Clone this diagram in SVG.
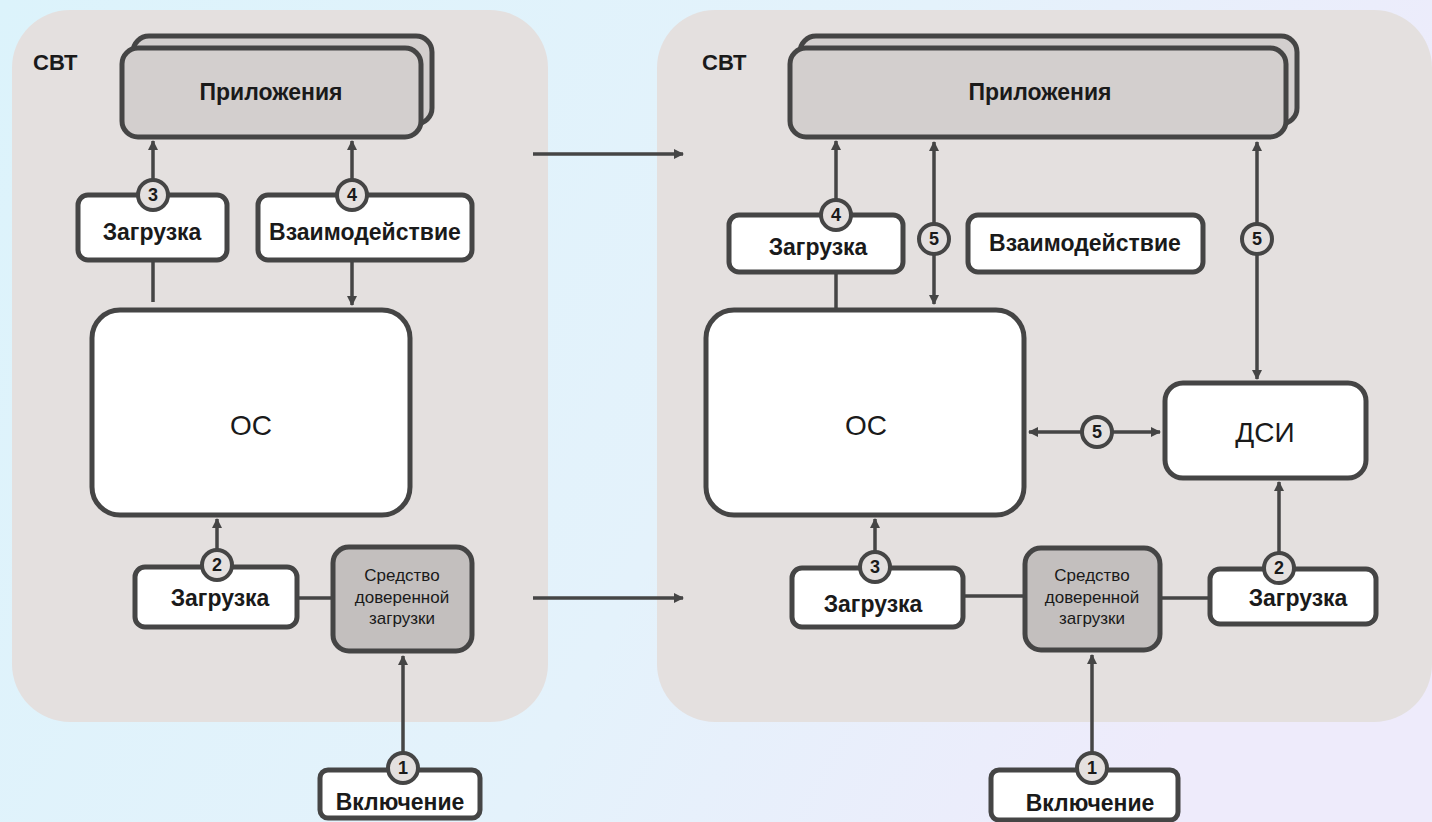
<svg xmlns="http://www.w3.org/2000/svg" width="1432" height="822" viewBox="0 0 1432 822">
<defs>
<linearGradient id="bg" x1="0" y1="0" x2="1" y2="0.3">
<stop offset="0" stop-color="#dcf3fb"/>
<stop offset="0.6" stop-color="#e4f2fb"/>
<stop offset="1" stop-color="#eeebfb"/>
</linearGradient>
<marker id="ah" viewBox="0 0 10 10" refX="9" refY="5" markerUnits="userSpaceOnUse" markerWidth="11" markerHeight="10" orient="auto-start-reverse">
<path d="M0,0 L10,5 L0,10 z" fill="#454545"/>
</marker>
<style>
.panel{fill:#e4e0df}
.box{fill:#ffffff;stroke:#454545;stroke-width:5}
.app{fill:#d3cfce;stroke:#454545;stroke-width:5}
.sdz{fill:#c3bfbe;stroke:#454545;stroke-width:5}
.lbl{font-family:"Liberation Sans",Arial,sans-serif;font-weight:bold;font-size:23px;fill:#1a1a1a;text-anchor:middle}
.big{font-family:"Liberation Sans",Arial,sans-serif;font-size:28px;fill:#1a1a1a;text-anchor:middle}
.sm{font-family:"Liberation Sans",Arial,sans-serif;font-size:17px;fill:#1a1a1a;text-anchor:middle}
.svt{font-family:"Liberation Sans",Arial,sans-serif;font-weight:bold;font-size:22px;fill:#1a1a1a}
.con{stroke:#454545;stroke-width:3.5;fill:none}
.arr{stroke:#454545;stroke-width:3.5;fill:none;marker-end:url(#ah)}
.arr2{stroke:#454545;stroke-width:3.5;fill:none;marker-end:url(#ah);marker-start:url(#ah)}
.step{fill:#e4e0df;stroke:#454545;stroke-width:4}
.num{font-family:"Liberation Sans",Arial,sans-serif;font-weight:bold;font-size:18px;fill:#1a1a1a;text-anchor:middle}
</style>
</defs>
<rect x="0" y="0" width="1432" height="822" fill="url(#bg)"/>

<g id="panel-left">
<rect class="panel" x="12" y="10" width="536" height="712" rx="58"/>
<text class="svt" x="33" y="70">СВТ</text>
</g>
<g id="panel-right">
<rect class="panel" x="657" y="10" width="775" height="712" rx="58"/>
<text class="svt" x="702" y="70">СВТ</text>
</g>

<g id="connectors">
<line class="arr" x1="533" y1="154" x2="683" y2="154"/>
<line class="arr" x1="533" y1="598" x2="683" y2="598"/>
<line class="arr" x1="153" y1="195" x2="153" y2="141"/>
<line class="con" x1="153" y1="260" x2="153" y2="302"/>
<line class="arr" x1="352" y1="195" x2="352" y2="141"/>
<line class="arr" x1="352" y1="260" x2="352" y2="305"/>
<line class="arr" x1="217" y1="565" x2="217" y2="519"/>
<line class="con" x1="297" y1="598" x2="333" y2="598"/>
<line class="arr" x1="403" y1="768" x2="403" y2="656"/>
<line class="arr" x1="836" y1="215" x2="836" y2="141"/>
<line class="con" x1="836" y1="272" x2="836" y2="310"/>
<line class="arr2" x1="934" y1="142" x2="934" y2="304"/>
<line class="arr2" x1="1257" y1="142" x2="1257" y2="379"/>
<line class="arr2" x1="1029" y1="432" x2="1160" y2="432"/>
<line class="arr" x1="875" y1="567" x2="875" y2="519"/>
<line class="con" x1="963" y1="596" x2="1025" y2="596"/>
<line class="con" x1="1160" y1="598" x2="1210" y2="598"/>
<line class="arr" x1="1279" y1="568" x2="1279" y2="482"/>
<line class="arr" x1="1092" y1="768" x2="1092" y2="655"/>
</g>

<g id="apps-left">
<rect class="app" x="133" y="36" width="299" height="88" rx="16"/>
<rect class="app" x="122" y="48" width="299" height="89" rx="16"/>
<text class="lbl" x="271" y="100">Приложения</text>
</g>
<g id="load3-left">
<rect class="box" x="78" y="195" width="149" height="65" rx="10"/>
<text class="lbl" x="152" y="240">Загрузка</text>
</g>
<g id="inter-left">
<rect class="box" x="258" y="195" width="214" height="65" rx="10"/>
<text class="lbl" x="365" y="240">Взаимодействие</text>
</g>
<g id="os-left">
<rect class="box" x="92" y="310" width="318" height="205" rx="28"/>
<text class="big" x="251" y="435">ОС</text>
</g>
<g id="load2-left">
<rect class="box" x="135" y="567" width="162" height="60" rx="10"/>
<text class="lbl" x="220" y="606">Загрузка</text>
</g>
<g id="sdz-left">
<rect class="sdz" x="333" y="547" width="139" height="104" rx="16"/>
<text class="sm" x="402" y="581">Средство</text>
<text class="sm" x="402" y="603">доверенной</text>
<text class="sm" x="402" y="624">загрузки</text>
</g>
<g id="power-left">
<rect class="box" x="320" y="770" width="160" height="48" rx="8"/>
<text class="lbl" x="400" y="810">Включение</text>
</g>

<g id="apps-right">
<rect class="app" x="800" y="36" width="497" height="88" rx="16"/>
<rect class="app" x="790" y="48" width="496" height="89" rx="16"/>
<text class="lbl" x="1040" y="100">Приложения</text>
</g>
<g id="load4-right">
<rect class="box" x="729" y="215" width="174" height="57" rx="10"/>
<text class="lbl" x="818" y="255">Загрузка</text>
</g>
<g id="inter-right">
<rect class="box" x="968" y="215" width="235" height="57" rx="10"/>
<text class="lbl" x="1085" y="251">Взаимодействие</text>
</g>
<g id="os-right">
<rect class="box" x="706" y="310" width="318" height="205" rx="28"/>
<text class="big" x="866" y="435">ОС</text>
</g>
<g id="dsi">
<rect class="box" x="1165" y="383" width="201" height="95" rx="18"/>
<text class="big" x="1265" y="442">ДСИ</text>
</g>
<g id="load3-right">
<rect class="box" x="792" y="568" width="171" height="59" rx="10"/>
<text class="lbl" x="873" y="612">Загрузка</text>
</g>
<g id="sdz-right">
<rect class="sdz" x="1025" y="548" width="135" height="102" rx="16"/>
<text class="sm" x="1092" y="581">Средство</text>
<text class="sm" x="1092" y="603">доверенной</text>
<text class="sm" x="1092" y="624">загрузки</text>
</g>
<g id="load2-right">
<rect class="box" x="1210" y="569" width="166" height="55" rx="10"/>
<text class="lbl" x="1298" y="606">Загрузка</text>
</g>
<g id="power-right">
<rect class="box" x="991" y="770" width="187" height="50" rx="8"/>
<text class="lbl" x="1090" y="811">Включение</text>
</g>

<g id="steps">
<circle class="step" cx="153" cy="195" r="15"/><text class="num" x="153" y="201">3</text>
<circle class="step" cx="352" cy="195" r="15"/><text class="num" x="352" y="201">4</text>
<circle class="step" cx="217" cy="565" r="15"/><text class="num" x="217" y="571">2</text>
<circle class="step" cx="403" cy="768" r="15"/><text class="num" x="403" y="774">1</text>
<circle class="step" cx="836" cy="215" r="15"/><text class="num" x="836" y="221">4</text>
<circle class="step" cx="934" cy="239" r="15"/><text class="num" x="934" y="245">5</text>
<circle class="step" cx="1257" cy="239" r="15"/><text class="num" x="1257" y="245">5</text>
<circle class="step" cx="1097" cy="432" r="15"/><text class="num" x="1097" y="438">5</text>
<circle class="step" cx="875" cy="567" r="15"/><text class="num" x="875" y="573">3</text>
<circle class="step" cx="1279" cy="568" r="15"/><text class="num" x="1279" y="574">2</text>
<circle class="step" cx="1092" cy="768" r="15"/><text class="num" x="1092" y="774">1</text>
</g>
</svg>
